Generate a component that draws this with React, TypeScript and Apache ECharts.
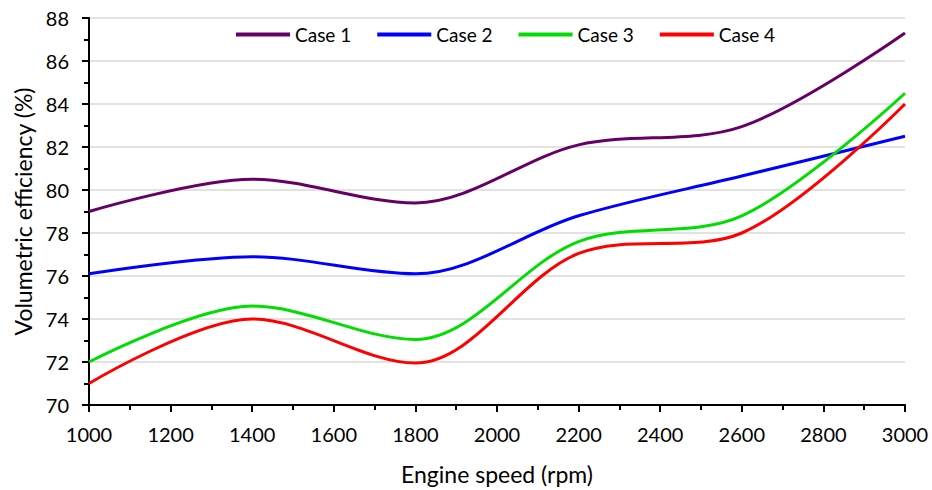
import React, { useEffect, useRef } from "react";
import * as echarts from "echarts";

const speeds = [1000, 1400, 1800, 2200, 2600, 3000];
const case1 = [79.0, 80.5, 79.4, 82.1, 82.95, 87.3];
const case2 = [76.1, 76.9, 76.1, 78.8, 80.65, 82.5];
const case3 = [72.0, 74.6, 73.05, 77.6, 78.8, 84.5];
const case4 = [71.0, 74.0, 71.95, 77.05, 78.0, 84.0];
const seriesNames = ["Case 1", "Case 2", "Case 3", "Case 4"];
const seriesColors = ["#660066", "#0000ff", "#00dd00", "#ff0000"];

const FONT = "Lato";

export default function App() {
  const ref = useRef<HTMLDivElement>(null);
  useEffect(() => {
    document.body.style.margin = "0";
    const chart = echarts.init(ref.current!, null, { renderer: "svg" });
    const all = [case1, case2, case3, case4];
    chart.setOption({
      animation: false,
      backgroundColor: "#ffffff",
      textStyle: { fontFamily: FONT },
      grid: { left: 89, right: 27, top: 18, bottom: 81 },
      legend: {
        top: 20,
        left: 231,
        icon: "rect",
        itemWidth: 54,
        itemHeight: 4,
        itemGap: 26,
        textStyle: { fontFamily: FONT, fontSize: 19, color: "#000" },
        data: seriesNames,
      },
      xAxis: {
        type: "value",
        min: 1000,
        max: 3000,
        interval: 200,
        name: "Engine speed (rpm)",
        nameLocation: "middle",
        nameGap: 57,
        nameTextStyle: { fontFamily: FONT, fontSize: 23, color: "#000" },
        axisLine: { lineStyle: { color: "#000", width: 2 } },
        axisTick: { show: true, inside: false, length: 7, lineStyle: { color: "#000", width: 2 } },
        minorTick: { show: true, splitNumber: 2, length: 5, lineStyle: { color: "#000", width: 2 } },
        axisLabel: {
          fontFamily: FONT,
          fontSize: 20,
          color: "#000",
          margin: 19,
          formatter: (v: number) => String(v),
        },
        splitLine: { show: false },
      },
      yAxis: {
        type: "value",
        min: 70,
        max: 88,
        interval: 2,
        name: "Volumetric efficiency (%)",
        nameLocation: "middle",
        nameGap: 55,
        nameTextStyle: { fontFamily: FONT, fontSize: 23, color: "#000" },
        axisLine: { show: true, lineStyle: { color: "#000", width: 2 } },
        axisTick: { show: true, inside: false, length: 7, lineStyle: { color: "#000", width: 2 } },
        minorTick: { show: true, splitNumber: 2, length: 5, lineStyle: { color: "#000", width: 2 } },
        axisLabel: { fontFamily: FONT, fontSize: 20, color: "#000", margin: 20 },
        splitLine: { show: true, lineStyle: { color: "#d9d9d9", width: 1.5 } },
      },
      series: all.map((vals, i) => ({
        name: seriesNames[i],
        type: "line",
        smooth: 0.33,
        showSymbol: false,
        symbol: "none",
        color: seriesColors[i],
        lineStyle: { color: seriesColors[i], width: 3 },
        data: speeds.map((s, j) => [s, vals[j]]),
      })),
    });
    return () => chart.dispose();
  }, []);
  return <div ref={ref} style={{ width: 932, height: 490 }} />;
}
